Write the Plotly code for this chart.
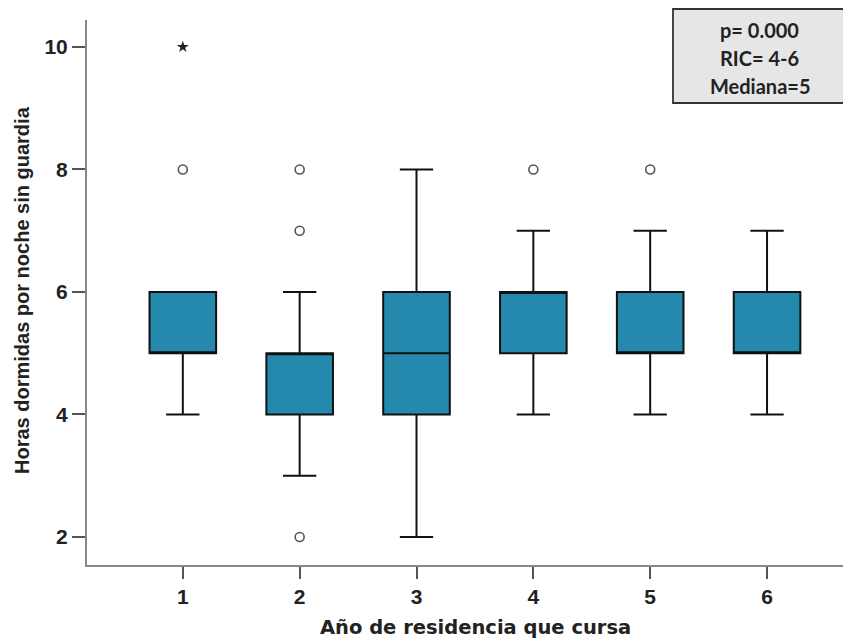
import plotly.graph_objects as go

categories = [1, 2, 3, 4, 5, 6]
q1 = [5, 4, 4, 5, 5, 5]
median = [5, 5, 5, 6, 5, 5]
q3 = [6, 5, 6, 6, 6, 6]
lower_whisker = [4, 3, 2, 4, 4, 4]
upper_whisker = [6, 6, 8, 7, 7, 7]

outlier_x = [1, 2, 2, 2, 4, 5]
outlier_y = [8, 8, 7, 2, 8, 8]
extreme_x = [1]
extreme_y = [10]

y_ticks = [2, 4, 6, 8, 10]
stats_lines = ["p= 0.000", "RIC= 4-6", "Mediana=5"]

box_color = "#2489ac"

fig = go.Figure()
fig.add_trace(go.Box(
    x=categories, q1=q1, median=median, q3=q3,
    lowerfence=lower_whisker, upperfence=upper_whisker,
    width=0.57, whiskerwidth=0.5,
    fillcolor=box_color, line=dict(color="#111111", width=2),
    boxpoints=False, showlegend=False, hoverinfo="skip",
))
fig.add_trace(go.Scatter(
    x=outlier_x, y=outlier_y, mode="markers",
    marker=dict(symbol="circle-open", size=9, color="#555555", line=dict(width=1.6)),
    showlegend=False,
))
fig.add_trace(go.Scatter(
    x=extreme_x, y=extreme_y, mode="markers",
    marker=dict(symbol="star", size=9, color="#222222"),
    showlegend=False,
))

tick_font = dict(family="Liberation Sans Narrow, Liberation Sans, Arial, sans-serif", size=21, color="#222222")

fig.update_layout(
    width=843, height=636,
    margin=dict(l=79, r=1, t=12, b=79),
    plot_bgcolor="white", paper_bgcolor="white",
    xaxis=dict(
        range=[0.18, 6.71], tickvals=categories, ticktext=["<b>%d</b>" % c for c in categories],
        showgrid=False, zeroline=False, showline=True, linecolor="#888888", linewidth=2,
        ticks="outside", ticklen=12, tickwidth=2, tickcolor="#555555",
        tickfont=tick_font, automargin=False,
    ),
    yaxis=dict(
        range=[1.543, 10.44], tickvals=y_ticks, ticktext=["<b>%d</b>" % v for v in y_ticks],
        showgrid=False, zeroline=False, showline=True, linecolor="#888888", linewidth=2,
        ticks="outside", ticklen=13, tickwidth=2, tickcolor="#555555",
        tickfont=tick_font, automargin=False,
    ),
)

# axis titles
fig.add_annotation(xref="paper", yref="paper", x=0.509, y=-0.1138,
                   xanchor="center", yanchor="middle", showarrow=False,
                   text="<b>Año de residencia que cursa</b>",
                   font=dict(family="DejaVu Sans, sans-serif", size=19.5, color="#222222"))
fig.add_annotation(xref="paper", yref="paper", x=-0.0852, y=0.5046,
                   xanchor="center", yanchor="middle", showarrow=False, textangle=-90,
                   text="<b>Horas dormidas por noche sin guardia</b>",
                   font=dict(family="Liberation Sans, Arial, sans-serif", size=20, color="#222222"))

# stats box
fig.add_shape(type="rect", xref="paper", yref="paper",
              x0=0.768, x1=0.997, y0=0.8477, y1=1.0202,
              fillcolor="#e6e6e6", line=dict(color="#333333", width=1.8), layer="above")
for line_text, ypos in zip(stats_lines, [0.9817, 0.9303, 0.8789]):
    fig.add_annotation(xref="paper", yref="paper", x=0.882, y=ypos,
                       xanchor="center", yanchor="middle", showarrow=False,
                       text="<b>%s</b>" % line_text,
                       font=dict(family="Lato, sans-serif", size=20, color="#222222"))

fig.write_html("out.html")
